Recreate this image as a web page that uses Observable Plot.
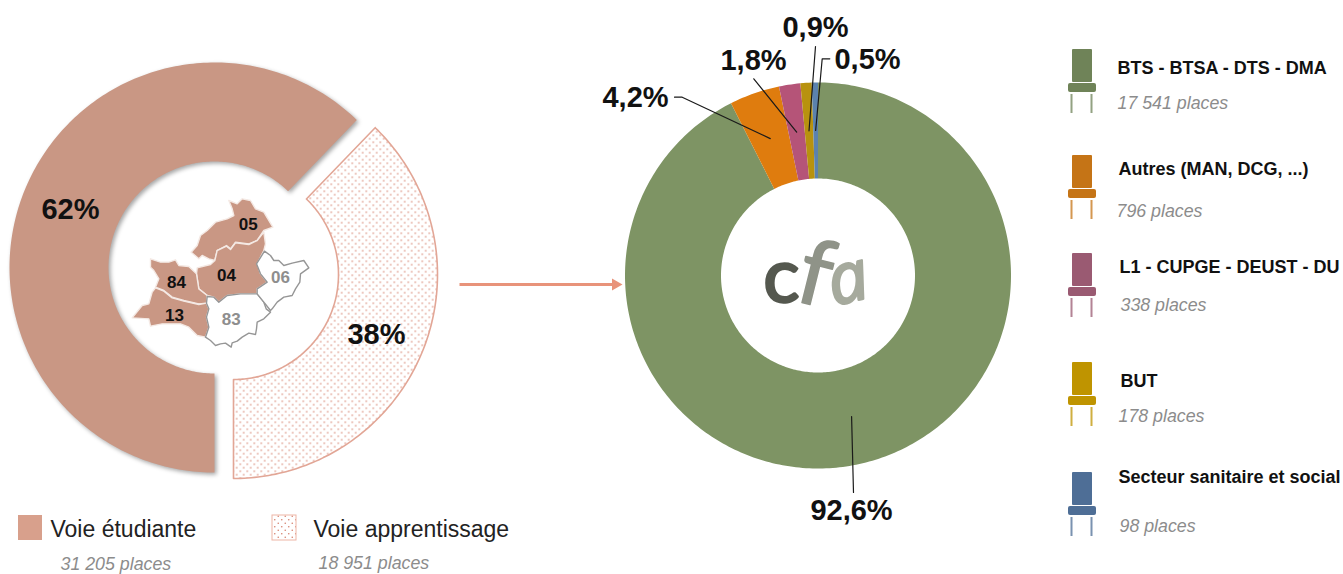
<!DOCTYPE html>
<html lang="fr">
<head>
<meta charset="utf-8">
<script src="https://cdn.jsdelivr.net/npm/d3@7"></script>
<script src="https://cdn.jsdelivr.net/npm/@observablehq/plot@0.6"></script>
<style>html,body{margin:0;padding:0;background:#fff}svg{display:block}</style>
</head>
<body>
<div id="chart"></div>
<script>
// ---- data ----
const voies = ["Voie étudiante", "Voie apprentissage"];
const voiePlaces = [31205, 18951];
const voiePercents = ["62%", "38%"];
const filieres = ["BTS - BTSA - DTS - DMA", "Autres (MAN, DCG, ...)", "L1 - CUPGE - DEUST - DU", "BUT", "Secteur sanitaire et social"];
const filierePlaces = [17541, 796, 338, 178, 98];
const filierePercents = ["92,6%", "4,2%", "1,8%", "0,9%", "0,5%"];
const placeLabels = ["17 541 places", "796 places", "338 places", "178 places", "98 places"];
const voiePlaceLabels = ["31 205 places", "18 951 places"];
const departements = ["05", "04", "84", "13", "83", "06"];
const departementTaught = [true, true, true, true, false, false];
// department outlines (traced shapes, in map units)
const outlines = {
  "05": [[385,60],[410,70],[425,55],[450,60],[465,85],[490,95],[517,140],[490,150],[470,180],[445,190],[405,185],[390,205],[378,195],[350,210],[343,240],[325,235],[305,225],[295,235],[272,215],[290,195],[300,165],[320,150],[345,125],[380,115],[400,105],[395,85]],
  "04": [[343,240],[350,210],[378,197],[390,207],[405,187],[445,192],[470,180],[490,155],[495,190],[490,210],[470,250],[480,280],[500,305],[470,325],[470,340],[420,340],[380,345],[355,365],[340,350],[320,345],[295,325],[288,280],[290,262],[330,252]],
  "84": [[150,235],[180,245],[205,245],[225,238],[235,255],[265,258],[288,280],[295,325],[320,345],[318,368],[295,370],[250,360],[215,350],[190,330],[165,320],[175,295],[160,270],[150,260]],
  "13": [[165,322],[190,332],[215,352],[250,362],[295,372],[318,368],[325,385],[318,410],[325,440],[315,470],[290,465],[265,440],[240,430],[210,430],[185,430],[150,437],[145,415],[95,412],[125,375],[145,370],[155,335]],
  "83": [[318,368],[320,348],[340,350],[355,365],[380,345],[420,340],[470,340],[490,365],[497,385],[510,395],[490,415],[470,425],[468,445],[465,462],[445,458],[425,470],[410,482],[395,487],[392,500],[375,488],[360,490],[345,495],[330,480],[315,470],[325,440],[318,410],[325,385]],
  "06": [[492,212],[510,225],[520,240],[535,240],[550,255],[575,248],[610,240],[625,262],[600,280],[598,305],[585,325],[575,345],[550,350],[530,365],[515,385],[510,390],[490,365],[470,340],[470,325],[500,305],[480,280],[468,250]]
};

// ---- styles and layout ----
const sliceColors = ["#7E9464", "#DF7C0E", "#B55478", "#B8920F", "#5B82AE"];
const chairColors = ["#6F8358", "#C57416", "#9A5A72", "#BF9400", "#4E6E96"];
const voieColors = ["#C99784", "url(#dots)"];
const FONT = "Liberation Sans";
const studentRing = {cx: 214, cy: 267, R: 205, r: 106};
const apprenticeRing = {cx: 233, cy: 274, R: 204, r: 105};
const mainRing = {cx: 817.5, cy: 275, R: 193, r: 97};

const rad = d => d * Math.PI / 180;
const polar = (g, a, r) => ({x: g.cx + r * Math.sin(rad(a)), y: g.cy - r * Math.cos(rad(a))});
function ring(key, g, a0, a1) {
  const n = Math.max(2, Math.ceil(Math.abs(a1 - a0)));
  const pts = [];
  for (let i = 0; i <= n; i++) pts.push({key, ...polar(g, a0 + (a1 - a0) * i / n, g.R)});
  for (let i = n; i >= 0; i--) pts.push({key, ...polar(g, a0 + (a1 - a0) * i / n, g.r)});
  pts.push(pts[0]);
  return pts;
}

// left donut: starts at six o'clock, clockwise
const voieTotal = d3.sum(voiePlaces);
const studentSpan = voiePlaces[0] / voieTotal * 360;
const leftPts = [
  ...ring(voies[0], studentRing, 180, 180 + studentSpan),
  ...ring(voies[1], apprenticeRing, 180 + studentSpan - 360, 180)
];

// right donut: starts at twelve o'clock, clockwise
const filTotal = d3.sum(filierePlaces);
let acc = 0;
const slices = filieres.map((f, i) => {
  const a0 = acc / filTotal * 360; acc += filierePlaces[i];
  const a1 = acc / filTotal * 360;
  return {key: f, a0, a1, mid: (a0 + a1) / 2};
});
const rightPts = slices.flatMap(s => ring(s.key, mainRing, s.a0, s.a1));

// leader lines from each slice's mid ring to its label
const leaderRadius = 145;
const leaderStarts = [[[853, 492]], [[674, 96.7], [681.7, 96.7]], [[753.3, 78.3]], [[815, 46]], [[829.3, 58.3], [821.7, 58.3]]];
const leaders = slices.flatMap((s, i) => {
  const end = polar(mainRing, s.mid, leaderRadius);
  return [...leaderStarts[i].map(([x, y]) => ({i, x, y})), {i, ...end}];
});
const percentPos = [[851, 510], [635, 97], [753, 60], [815, 27], [867, 59]];
const voiePercentPos = [[70, 209], [376, 334]];

// map
const mapX = v => 100 + v / 3, mapY = v => 180 + v / 3;
const deptPts = d => outlines[d].concat([outlines[d][0]]).map(([a, b]) => ({d, x: mapX(a), y: mapY(b)}));
const deptLabelPos = [[443, 133], [378, 284], [228, 305], [222, 405], [392, 418], [540, 290]].map(([a, b]) => [mapX(a), mapY(b)]);

// legend chairs
const chairTops = [49, 155, 253, 362, 472];
const chairRows = chairTops.map((t, i) => ({t, c: chairColors[i]}));
const titlePos = [[1117, 68], [1118, 169], [1119, 267], [1120, 381], [1118, 477]];
const subPos = [[1117, 103], [1116, 211], [1120, 305], [1118, 416], [1119, 526]];

// logo letters
const logoLetters = ["c", "f", "a"];
const logoColors = ["#55584F", "#8F9388", "#A6AA9D"];
const logoStyle = [
  {x: 781, y: 277, size: 76, family: "Lato", fs: "normal", rot: 0, sw: 2.5},
  {x: 815, y: 275, size: 92, family: "Lato", fs: "normal", rot: 14, sw: 1.5},
  {x: 847, y: 279, size: 70, family: "Open Sans", fs: "italic", rot: -14, sw: 2.5}
];

const text = (rows, opts) => Plot.text(rows, {fontFamily: FONT, lineAnchor: "middle", x: d => d.x, y: d => d.y, text: d => d.t, ...opts});
const rows = (labels, pos) => labels.map((t, i) => ({t, x: pos[i][0], y: pos[i][1]}));
const defs = () => {
  const ns = d3.create("svg:defs");
  const p = ns.append("pattern").attr("id", "dots").attr("width", 7).attr("height", 7).attr("patternUnits", "userSpaceOnUse");
  p.append("rect").attr("width", 7).attr("height", 7).attr("fill", "#fff");
  for (const [x, y] of [[1.75, 1.75], [5.25, 5.25]])
    p.append("circle").attr("cx", x).attr("cy", y).attr("r", 0.8).attr("fill", "#D6826F");
  return ns.node();
};

const chart = Plot.plot({
  width: 1343, height: 574, margin: 0,
  style: {background: "#fff", fontFamily: FONT},
  x: {domain: [0, 1343], axis: null},
  y: {domain: [574, 0], axis: null},
  color: {type: "ordinal", domain: [...filieres, ...voies], range: [...sliceColors, ...voieColors]},
  marks: [
    defs,
    // left donut
    Plot.line(leftPts.filter(d => d.key === voies[0]), {x: "x", y: "y", z: "key", fill: "key", stroke: null, imageFilter: "drop-shadow(2px 2px 2px rgba(0,0,0,.35))"}),
    Plot.line(leftPts.filter(d => d.key === voies[1]), {x: "x", y: "y", z: "key", fill: "key", stroke: "#E2A696", strokeWidth: 1.6}),
    // map
    Plot.line(departements.flatMap(deptPts), {
      x: "x", y: "y", z: "d",
      fill: d => departementTaught[departements.indexOf(d.d)] ? "#C99784" : "#FFFFFF",
      stroke: d => departementTaught[departements.indexOf(d.d)] ? "#F4E9E4" : "#969696",
      strokeWidth: 1.4, strokeLinejoin: "round"
    }),
    text(rows(departements, deptLabelPos), {fontSize: 17, fontWeight: "bold", fill: (d, i) => departementTaught[i] ? "#111" : "#8E8E8E"}),
    text(rows(voiePercents, voiePercentPos), {fontSize: 29, fontWeight: "bold", fill: "#111"}),
    // arrow
    Plot.link([{}], {x1: () => 459, y1: () => 284, x2: () => 612, y2: () => 284, stroke: "#E8937A", strokeWidth: 3}),
    Plot.dot([{}], {x: () => 615, y: () => 284, symbol: "triangle", r: 4.5, fill: "#E8937A", rotate: 90}),
    // right donut
    Plot.line(rightPts, {x: "x", y: "y", z: "key", fill: "key", stroke: null}),
    Plot.line(leaders, {x: "x", y: "y", z: "i", stroke: "#1a1a1a", strokeWidth: 1.2}),
    text(rows(filierePercents, percentPos), {fontSize: 29, fontWeight: "bold", fill: "#111"}),
    // logo: one text mark per letter so each has its own font and tilt
    ...logoLetters.map((t, i) => {
      const s = logoStyle[i];
      return text([{t, x: s.x, y: s.y}], {fontFamily: s.family, fontStyle: s.fs, fontSize: s.size, rotate: s.rot, fill: logoColors[i], stroke: logoColors[i], strokeWidth: s.sw, strokeLinejoin: "round"});
    }),
    // chair legend
    Plot.rect(chairRows, {x1: () => 1072, x2: () => 1092, y1: d => d.t, y2: d => d.t + 33, fill: "c", r: 1}),
    Plot.rect(chairRows, {x1: () => 1068, x2: () => 1096, y1: d => d.t + 34, y2: d => d.t + 43, fill: "c", r: 2}),
    Plot.rect(chairRows, {x1: () => 1070.5, x2: () => 1072.5, y1: d => d.t + 45, y2: d => d.t + 64, fill: "c", fillOpacity: 0.75}),
    Plot.rect(chairRows, {x1: () => 1090.5, x2: () => 1092.5, y1: d => d.t + 45, y2: d => d.t + 64, fill: "c", fillOpacity: 0.75}),
    text(rows(filieres, titlePos), {fontSize: 18, fontWeight: "bold", textAnchor: "start", fill: "#111"}),
    text(rows(placeLabels, subPos), {fontSize: 17.8, fontStyle: "italic", textAnchor: "start", fill: "#8C8C8C"}),
    // voie legend
    Plot.rect(voies.map((v, i) => ({v, x: [18, 272][i]})), {x1: "x", x2: d => d.x + 24, y1: () => 515, y2: () => 540, fill: (d, i) => i ? "url(#dots)" : "#D8A08C", stroke: (d, i) => i ? "#EDB5A6" : "none"}),
    text(rows(voies, [[50, 529], [313, 529]]), {fontSize: 23, textAnchor: "start", fill: "#222"}),
    text(rows(voiePlaceLabels, [[60, 564], [318, 563]]), {fontSize: 17.8, fontStyle: "italic", textAnchor: "start", fill: "#8C8C8C"})
  ]
});
document.getElementById("chart").append(chart);
</script>
</body>
</html>
